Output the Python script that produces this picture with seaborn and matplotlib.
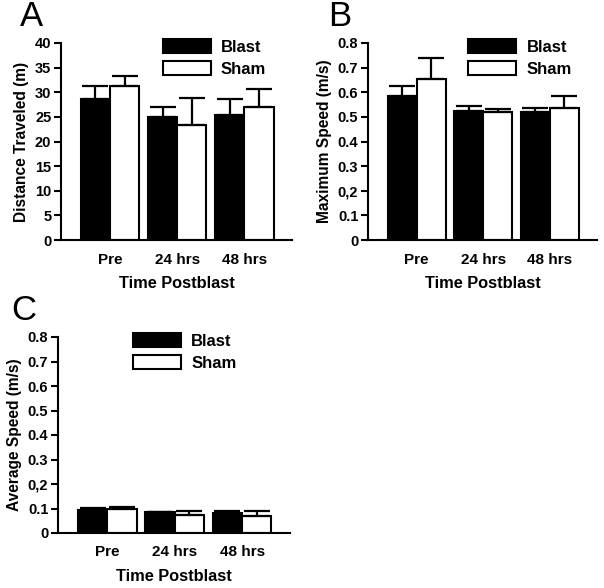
import matplotlib
matplotlib.use("Agg")
import matplotlib.pyplot as plt
from matplotlib.patches import Patch
import seaborn as sns
import pandas as pd

sns.set_style("ticks")
plt.rcParams['font.family'] = ['Liberation Sans', 'DejaVu Sans']
plt.rcParams.update({"text.color": "black", "axes.labelcolor": "black",
                     "xtick.color": "black", "ytick.color": "black",
                     "axes.edgecolor": "black"})

times = ["Pre", "24 hrs", "48 hrs"]
groups = ["Blast", "Sham"]

dist_blast = [28.7, 25.0, 25.3]
dist_sham = [31.2, 23.4, 27.1]
dist_blast_err = [2.5, 2.0, 3.4]
dist_sham_err = [2.2, 5.5, 3.5]

maxsp_blast = [0.583, 0.525, 0.519]
maxsp_sham = [0.654, 0.518, 0.538]
maxsp_blast_err = [0.041, 0.021, 0.017]
maxsp_sham_err = [0.085, 0.016, 0.045]

avgsp_blast = [0.093, 0.084, 0.082]
avgsp_sham = [0.098, 0.073, 0.071]
avgsp_blast_err = [0.008, 0.003, 0.008]
avgsp_sham_err = [0.008, 0.018, 0.019]

dist_ticks = [0, 5, 10, 15, 20, 25, 30, 35, 40]
dist_ticklabels = ["0", "5", "10", "15", "20", "25", "30", "35", "40"]
speed_ticks = [0, 0.1, 0.2, 0.3, 0.4, 0.5, 0.6, 0.7, 0.8]
speed_ticklabels = ["0", "0.1", "0,2", "0.3", "0.4", "0.5", "0.6", "0.7", "0.8"]

W, H = 604, 588
fig = plt.figure(figsize=(W / 100, H / 100), dpi=100)


def px_axes(l, t, r, b):
    return fig.add_axes([l / W, 1 - b / H, (r - l) / W, (b - t) / H])


def panel(ax, blast, sham, berr, serr, ylabel, ticks, ticklabels, ymax, letter, leg_x, letter_xy):
    df = pd.DataFrame({
        "time": times * 2,
        "group": [groups[0]] * 3 + [groups[1]] * 3,
        "value": list(blast) + list(sham),
    })
    sns.barplot(data=df, x="time", y="value", hue="group", order=times,
                hue_order=groups, palette=["black", "white"], edgecolor="black",
                linewidth=1.5, width=0.87, errorbar=None, legend=False, ax=ax)
    for cont, errs in zip(ax.containers, [berr, serr]):
        xs = [p.get_x() + p.get_width() / 2 for p in cont]
        ys = [p.get_height() for p in cont]
        ax.errorbar(xs, ys, yerr=[[0] * len(errs), errs], fmt="none",
                    ecolor="black", elinewidth=1.6, capsize=9.5, capthick=1.6, zorder=1)
    ax.set_xlim(-0.73, 2.71)
    ax.set_ylim(0, ymax)
    ax.set_yticks(ticks)
    ax.set_yticklabels(ticklabels)
    ax.tick_params(axis="y", length=5, width=1.5, pad=2, labelsize=10.5)
    ax.tick_params(axis="x", length=0, pad=9, labelsize=11)
    for lab in ax.get_xticklabels() + ax.get_yticklabels():
        lab.set_fontweight("bold")
    for s in ["left", "bottom"]:
        ax.spines[s].set_linewidth(1.5)
    sns.despine(ax=ax)
    ax.set_xlabel("Time Postblast", fontsize=11.8, fontweight="bold", labelpad=7)
    ax.set_ylabel(ylabel, fontsize=11.2, fontweight="bold", labelpad=4)
    handles = [Patch(facecolor="black", edgecolor="black", linewidth=1.5),
               Patch(facecolor="white", edgecolor="black", linewidth=1.5)]
    ax.legend(handles, groups, loc="upper left", bbox_to_anchor=(leg_x, 1.02),
              frameon=False, borderpad=0, borderaxespad=0, handlelength=2.9,
              handleheight=0.95, handletextpad=0.6, labelspacing=0.35,
              prop={"weight": "bold", "size": 12})
    fig.text(letter_xy[0] / W, 1 - letter_xy[1] / H, letter, fontsize=25,
             ha="left", va="top")


axA = px_axes(61, 43, 292, 240)
panel(axA, dist_blast, dist_sham, dist_blast_err, dist_sham_err,
      "Distance Traveled (m)", dist_ticks, dist_ticklabels, 40, "A", 0.44, (20, 0))

axB = px_axes(368, 43, 597, 240)
panel(axB, maxsp_blast, maxsp_sham, maxsp_blast_err, maxsp_sham_err,
      "Maximum Speed (m/s)", speed_ticks, speed_ticklabels, 0.8, "B", 0.437, (328, 0))

axC = px_axes(58, 337, 290, 533)
panel(axC, avgsp_blast, avgsp_sham, avgsp_blast_err, avgsp_sham_err,
      "Average Speed (m/s)", speed_ticks, speed_ticklabels, 0.8, "C", 0.323, (11, 294))

fig.savefig("out.png", dpi=100)
